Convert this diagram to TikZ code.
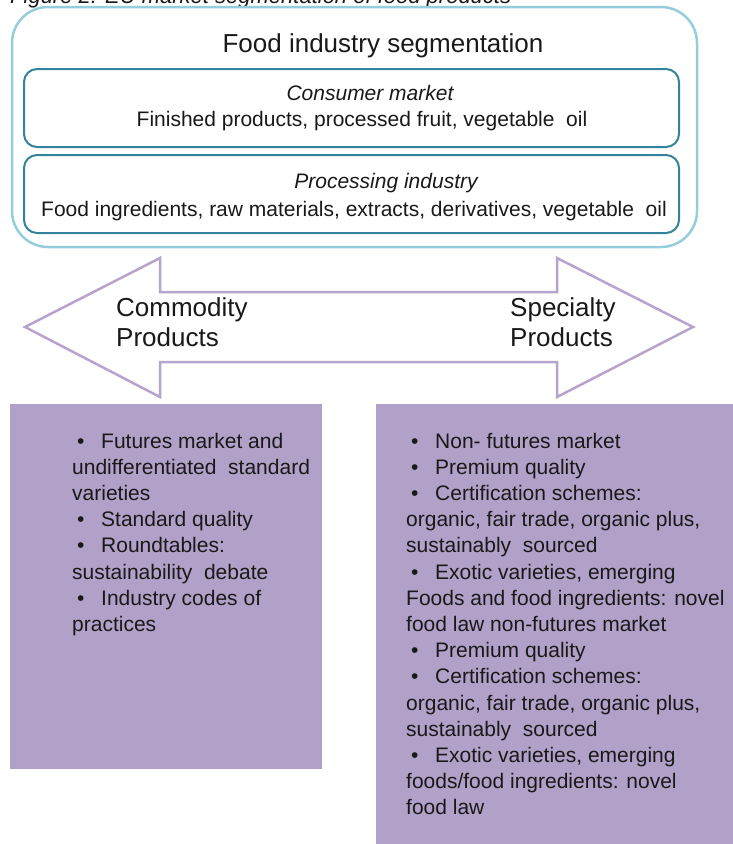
\documentclass[tikz,border=0pt]{standalone}
\usepackage{fontspec}
\setmainfont{Liberation Sans}
\definecolor{outerblue}{RGB}{150,205,221}
\definecolor{innerteal}{RGB}{49,132,155}
\definecolor{lav}{RGB}{177,160,199}
\definecolor{lavline}{RGB}{180,164,206}
\definecolor{txt}{RGB}{25,25,25}
\newcommand{\bul}{\makebox[29pt][l]{\hspace*{5pt}\textbullet}}
\begin{document}
\begin{tikzpicture}[x=1pt,y=-1pt,
  body/.style={font=\fontsize{21}{26.2}\selectfont, text=txt, inner sep=0pt},
  big/.style={font=\fontsize{26}{30}\selectfont, text=txt, inner sep=0pt},
  segbox/.style={draw=innerteal, line width=2pt, rounded corners=13pt, minimum width=655pt, minimum height=78pt, inner sep=0pt},
  purplebox/.style={fill=lav, draw=none}]
\useasboundingbox (0,0) rectangle (733,844);
\clip (0,0) rectangle (733,844);
% caption (cut off at top)
\node[anchor=base west, font=\itshape\fontsize{22}{24}\selectfont, text=txt, inner sep=0pt] (cap) at (10,3) {Figure 2: EU market segmentation of food products};
% outer box
\node[draw=outerblue, line width=2.5pt, rounded corners=36pt, minimum width=685pt, minimum height=240pt, inner sep=0pt] (outer) at (354.5,127) {};
\node[big, anchor=base] (title) at (383,52) {Food industry segmentation};
% inner boxes
\node[segbox] (cons) at (351.5,108) {};
\node[body, anchor=base, font=\itshape\fontsize{21}{26}\selectfont] (consT) at (370,100) {Consumer market};
\node[body, anchor=base] (consD) at (362,126) {Finished products, processed fruit, vegetable\ \ oil};
\node[segbox] (proc) at (351.5,194) {};
\node[body, anchor=base, font=\itshape\fontsize{21}{26}\selectfont] (procT) at (386,188) {Processing industry};
\node[body, anchor=base] (procD) at (354,216) {Food ingredients, raw materials, extracts, derivatives, vegetable\ \ oil};
% double arrow
\draw[lavline, line width=2.5pt, fill=white, line join=miter]
  (25,327) -- (160,258) -- (160,292) -- (557,292) -- (557,258) -- (693,327)
  -- (557,397) -- (557,362) -- (160,362) -- (160,397) -- cycle;
% multi-line nodes: base anchor = baseline of last line
\node[big, anchor=base west, align=left] (comm) at (116,346) {Commodity\\Products};
\node[big, anchor=base west, align=left] (spec) at (510,346) {Specialty\\Products};
% purple boxes
\fill[purplebox] (10,404) rectangle (322,769);
\fill[purplebox] (376,404) rectangle (733,844);
\node[body, anchor=base west, align=left] (leftT) at (72,631.4) {%
\bul Futures market and\\
undifferentiated\ \ standard\\
varieties\\
\bul Standard quality\\
\bul Roundtables:\\
sustainability\ \ debate\\
\bul Industry codes of\\
practices};
\node[body, anchor=base west, align=left] (rightT) at (406,814.8) {%
\bul Non- futures market\\
\bul Premium quality\\
\bul Certification schemes:\\
organic, fair trade, organic plus,\\
sustainably\ \ sourced\\
\bul Exotic varieties, emerging\\
Foods and food ingredients: novel\\
food law non-futures market\\
\bul Premium quality\\
\bul Certification schemes:\\
organic, fair trade, organic plus,\\
sustainably\ \ sourced\\
\bul Exotic varieties, emerging\\
foods/food ingredients: novel\\
food law};
\end{tikzpicture}
\end{document}
